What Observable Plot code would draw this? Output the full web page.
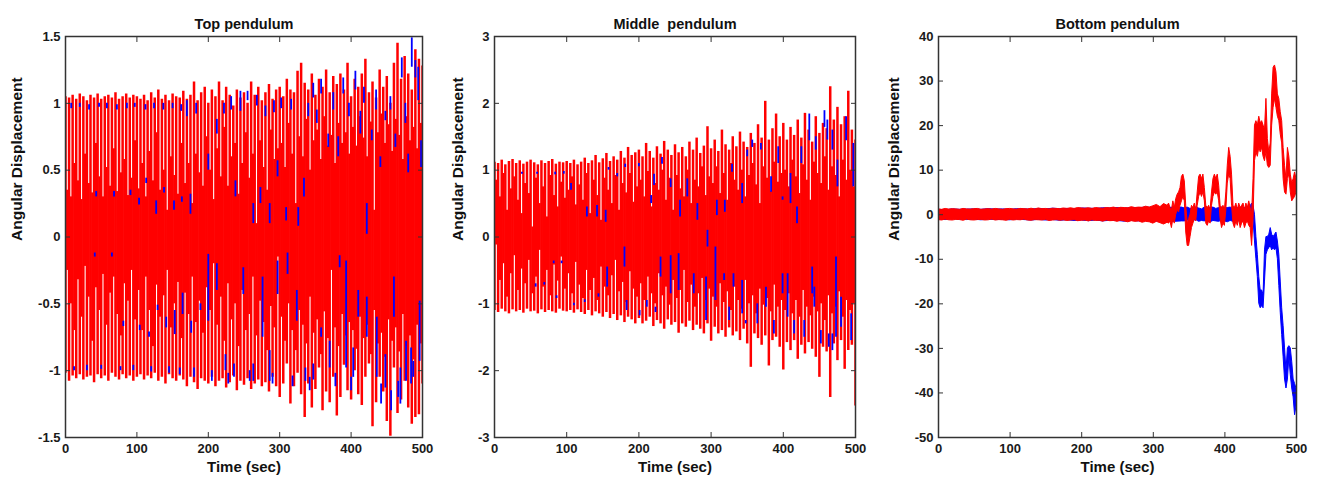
<!DOCTYPE html>
<html><head><meta charset="utf-8">
<script src="https://cdn.jsdelivr.net/npm/d3@7"></script>
<script src="https://cdn.jsdelivr.net/npm/@observablehq/plot@0.6"></script>
<style>
body{margin:0;background:#fff;}
#row{display:flex;width:1318px;height:486px;overflow:hidden;}
#row svg{display:block;flex:none;}
</style></head><body><div id="row"></div>
<script>
// ---------- shared ----------
const xTicks = [0, 100, 200, 300, 400, 500];
const titles = ["Top pendulum", "Middle  pendulum", "Bottom pendulum"];
const xLabel = "Time (sec)";
const yLabel = "Angular Displacement";
const topYTicks = [-1.5, -1, -0.5, 0, 0.5, 1, 1.5];
const midYTicks = [-3, -2, -1, 0, 1, 2, 3];
const botYTicks = [-50, -40, -30, -20, -10, 0, 10, 20, 30, 40];

// ---------- Top pendulum (peaks of red swings every 5 s, fill levels in between) ----------
const topRedUp = [1.05,1.04,1.06,1.03,1.07,1.05,1.02,1.06,1.04,1.07,1.03,1.05,1.06,1.04,1.08,1.03,1.05,1.07,1.04,1.06,
  1.05,1.03,1.06,1.02,1.08,1.04,1.10,1.03,1.06,1.02,1.07,1.05,1.04,1.09,1.03,1.06,1.16,1.02,1.08,1.12,
  1.00,1.10,1.05,1.16,1.02,1.12,1.06,0.98,1.10,1.04,1.08,1.00,1.16,1.06,1.12,1.02,1.08,1.14,1.03,1.10,
  1.12,1.05,1.18,1.10,1.08,1.24,1.30,1.15,1.10,1.22,1.06,1.18,1.12,1.25,1.08,1.20,1.14,1.22,1.10,1.30,
  1.05,1.18,1.12,1.22,1.33,1.08,1.16,1.04,1.25,1.12,1.20,1.00,1.30,1.45,1.18,1.35,1.22,1.10,1.40,1.33,1.28];
const topRedUpFill = [0.35,0.30,0.55,0.42,0.28,0.62,0.40,0.33,0.70,0.45,0.30,0.52,0.38,0.66,0.34,0.48,0.58,0.31,0.44,0.72,
  0.36,0.55,0.30,0.64,0.42,0.78,0.35,0.50,0.20,0.60,0.46,0.32,0.70,0.40,0.55,0.25,0.62,0.48,0.38,0.75,
  0.50,0.28,0.66,0.45,0.82,0.38,0.60,0.70,0.32,0.55,0.78,0.44,0.62,0.10,0.72,0.52,0.35,0.80,0.58,0.66,
  0.70,0.52,0.85,0.62,0.25,0.75,0.60,0.88,0.50,0.72,0.80,0.58,0.90,0.68,0.76,0.55,0.85,0.70,0.78,0.62,
  0.82,0.68,0.90,0.74,0.60,0.86,0.20,0.78,0.92,0.70,0.84,0.64,0.88,0.76,0.58,0.90,0.72,0.82,0.66,0.85];
const topRedDown = [-1.02,-1.08,-1.04,-1.06,-1.03,-1.07,-1.05,-1.04,-1.09,-1.03,-1.06,-1.04,-1.08,-1.02,-1.05,-1.07,-1.03,-1.06,-1.04,-1.08,
  -1.05,-1.03,-1.07,-1.04,-1.06,-1.02,-1.08,-1.05,-1.10,-1.03,-1.06,-1.08,-1.04,-1.07,-1.12,-1.05,-1.09,-1.14,-1.06,-1.08,
  -1.10,-1.05,-1.12,-1.08,-1.06,-1.13,-1.09,-1.04,-1.15,-1.08,-1.11,-1.06,-1.14,-1.10,-1.07,-1.12,-1.09,-1.16,-1.05,-1.12,
  -1.20,-1.10,-0.95,-1.25,-1.12,-1.02,-1.18,-1.35,-1.10,-1.28,-1.14,-0.98,-1.30,-1.16,-1.24,-1.05,-1.34,-1.20,-0.96,-1.15,
  -1.22,-1.00,-1.18,-1.26,-1.05,-0.95,-1.42,-1.24,-1.05,-1.16,-1.38,-1.49,-0.98,-1.32,-1.22,-1.08,-1.28,-1.40,-1.35,-1.33,-1.10];
const topRedDownFill = [-0.25,-0.50,-0.70,-0.32,-0.60,-0.22,-0.45,-0.78,-0.38,-0.55,-0.28,-0.66,-0.42,-0.30,-0.58,-0.74,-0.35,-0.48,-0.25,-0.62,
  -0.40,-0.70,-0.30,-0.55,-0.82,-0.36,-0.60,-0.44,-0.25,-0.68,-0.50,-0.34,-0.76,-0.42,-0.58,-0.30,-0.64,-0.48,-0.72,-0.38,
  -0.55,-0.20,-0.66,-0.45,-0.78,-0.35,-0.62,-0.50,-0.82,-0.40,-0.70,-0.58,-0.30,-0.74,-0.48,-0.64,-0.85,-0.52,-0.68,-0.15,
  -0.60,-0.78,-0.50,-0.70,-0.85,-0.55,-0.66,-0.80,-0.45,-0.72,-0.62,-0.88,-0.56,-0.76,-0.25,-0.68,-0.82,-0.58,-0.74,-0.64,
  -0.70,-0.84,-0.60,-0.76,-0.66,-0.88,-0.55,-0.80,-0.72,-0.90,-0.62,-0.78,-0.68,-0.86,-0.58,-0.82,-0.74,-0.92,-0.66,-0.80];
// visible pieces of the blue trace: [time, from, to]
const topBlue = [
  [8,0.96,1.0],[20,0.97,1.0],[33,0.95,0.99],[47,0.97,1.0],[58,0.96,1.0],[72,0.95,0.99],[86,0.96,1.0],[97,0.97,1.0],
  [112,0.95,0.99],[124,0.96,1.0],[137,0.95,1.0],[150,0.96,1.0],[162,0.94,0.99],[170,0.9,1.02],[183,0.92,1.0],
  [43,0.30,0.34],[68,0.30,0.34],[91,0.31,0.35],[103,0.24,0.29],[113,0.40,0.44],[127,0.17,0.27],[138,0.33,0.37],
  [152,0.2,0.27],[163,0.26,0.3],[175,0.17,0.32],[200,0.5,0.62],[212,0.77,0.88],[238,0.3,0.42],[245,0.94,1.09],
  [255,1.02,1.09],[263,0.1,0.25],[273,0.25,0.37],[286,0.1,0.25],[297,0.45,0.57],[309,0.12,0.22],[326,0.08,0.22],
  [334,0.3,0.44],[347,1.04,1.15],[358,1.07,1.18],[368,0.67,0.77],[382,0.6,0.75],[389,1.07,1.19],[406,1.1,1.24],
  [413,0.77,0.94],[422,0.02,0.25],[429,0.72,0.8],[441,0.52,0.6],[448,0.87,0.94],[455,0.95,1.05],[462,0.67,0.77],
  [471,1.19,1.34],[480,0.48,0.62],[485,1.27,1.49],[490,1.19,1.32],[494,1.02,1.27],[498,0.52,0.72],
  [222,0.92,1.0],[232,0.95,1.05],[268,0.98,1.06],[280,0.9,0.98],[292,0.93,1.02],[302,0.96,1.04],[316,0.95,1.03],
  [340,0.9,1.0],[352,0.85,0.95],[375,0.95,1.08],[397,0.9,1.0],[418,1.0,1.12],[435,0.95,1.1],[476,0.85,1.0],
  [41,-0.15,-0.12],[65,-0.15,-0.12],[81,-0.67,-0.63],[104,-0.7,-0.66],[117,-0.75,-0.71],[129,-0.55,-0.51],
  [141,-0.68,-0.6],[153,-0.73,-0.55],[164,-0.58,-0.42],[176,-0.72,-0.63],[189,-0.55,-0.5],[200,-0.63,-0.13],
  [212,-0.4,-0.2],[224,-1.0,-0.88],[236,-1.05,-0.95],[249,-0.43,-0.23],[263,-1.08,-0.95],[276,-0.75,-0.3],
  [286,-1.08,-0.85],[297,-0.43,-0.18],[311,-0.28,-0.12],[324,-0.63,-0.4],[336,-1.08,-0.98],[347,-1.07,-0.95],
  [358,-0.75,-0.68],[370,-0.98,-0.78],[384,-0.23,-0.14],[393,-0.98,-0.18],[403,-1.05,-0.83],[410,-0.6,-0.4],
  [422,-0.75,-0.45],[436,-1.05,-0.6],[448,-1.13,-0.88],[460,-0.6,-0.3],[469,-1.25,-0.98],[477,-1.08,-0.78],
  [484,-1.1,-0.83],[487,-1.05,-0.93],[496,-0.93,-0.48],
  [12,-1.0,-0.97],[30,-1.0,-0.96],[50,-0.99,-0.96],[77,-1.0,-0.97],[95,-1.0,-0.96],[120,-1.01,-0.97],[145,-1.02,-0.97],
  [160,-1.03,-0.98],[180,-1.05,-0.98],[205,-1.08,-1.0],[228,-1.1,-1.02],[258,-1.08,-1.0],[290,-1.1,-1.02],
  [318,-1.12,-1.04],[342,-1.15,-1.05],[378,-1.12,-1.02],[400,-1.15,-1.05],[442,-1.25,-1.1],[456,-1.3,-1.15],[466,-1.2,-1.08]];

// ---------- Middle pendulum ----------
const midRedUp = [1.12,1.10,1.15,1.08,1.13,1.16,1.10,1.14,1.09,1.12,1.15,1.11,1.08,1.14,1.10,1.13,1.16,1.09,1.12,1.11,
  1.13,1.10,1.15,1.08,1.12,1.18,1.10,1.14,1.22,1.11,1.17,1.25,1.13,1.20,1.15,1.28,1.18,1.34,1.22,1.26,
  1.30,1.20,1.40,1.28,1.18,1.35,1.24,1.43,1.30,1.22,1.38,1.26,1.34,1.20,1.42,1.30,1.48,1.25,1.36,1.65,
  1.32,1.45,1.28,1.60,1.38,1.30,1.50,1.35,1.57,1.42,1.34,1.55,1.40,1.68,1.48,2.03,1.45,1.62,1.84,1.50,
  1.70,1.45,1.64,1.52,1.75,1.48,1.85,1.60,1.42,1.80,1.55,1.70,1.62,2.25,1.75,1.94,1.68,1.80,2.18,1.60,1.45];
const midRedUpFill = [0.85,0.60,0.95,0.40,0.72,0.90,0.55,0.35,0.80,0.65,0.15,0.88,0.50,0.75,0.30,0.92,0.62,0.45,0.82,0.58,
  0.70,0.90,0.48,0.78,0.55,0.95,0.35,0.85,0.62,0.25,0.88,0.70,0.50,0.92,0.40,0.80,0.66,0.95,0.52,0.75,
  0.85,0.60,0.98,0.45,0.80,0.70,1.00,0.55,0.88,0.40,0.92,0.72,0.60,1.00,0.50,0.85,0.75,1.05,0.62,0.90,
  0.80,1.05,0.65,0.95,0.55,1.10,0.85,0.70,1.00,0.60,0.92,1.10,0.78,0.50,1.05,0.88,0.68,1.12,0.82,0.95,
  1.00,0.75,1.15,0.90,0.65,1.08,0.85,0.55,1.12,0.95,0.80,1.20,0.70,1.05,0.92,0.60,1.15,0.85,1.00,0.75];
const midRedDown = [-1.10,-1.13,-1.08,-1.12,-1.15,-1.09,-1.12,-1.10,-1.14,-1.08,-1.12,-1.11,-1.15,-1.09,-1.13,-1.10,-1.12,-1.14,-1.08,-1.11,
  -1.12,-1.10,-1.14,-1.09,-1.13,-1.16,-1.10,-1.18,-1.12,-1.15,-1.20,-1.13,-1.22,-1.16,-1.25,-1.18,-1.28,-1.20,-1.24,-1.30,
  -1.22,-1.30,-1.26,-1.20,-1.34,-1.25,-1.30,-1.38,-1.24,-1.32,-1.28,-1.44,-1.30,-1.35,-1.26,-1.40,-1.32,-1.38,-1.45,-1.30,
  -1.56,-1.35,-1.45,-1.40,-1.50,-1.36,-1.48,-1.42,-1.55,-1.38,-1.60,-1.95,-1.45,-1.52,-1.62,-1.48,-1.93,-1.55,-1.50,-1.65,
  -1.99,-1.58,-1.70,-1.55,-1.83,-1.62,-1.75,-1.58,-1.68,-1.80,-2.10,-1.65,-1.72,-2.40,-1.60,-1.85,-1.55,-1.98,-1.70,-1.62,-2.53];
const midRedDownFill = [-0.12,-0.65,-0.40,-0.90,-0.55,-0.28,-0.80,-0.48,-0.70,-0.35,-0.85,-0.60,-0.20,-0.75,-0.50,-0.88,-0.42,-0.66,-0.30,-0.78,
  -0.55,-0.85,-0.38,-0.72,-0.92,-0.50,-0.80,-0.62,-0.95,-0.45,-0.75,-0.88,-0.58,-0.35,-0.82,-0.68,-0.98,-0.52,-0.78,-0.90,
  -0.70,-0.95,-0.60,-0.85,-1.00,-0.55,-0.88,-0.75,-1.02,-0.65,-0.92,-0.80,-0.50,-0.98,-0.72,-1.05,-0.85,-0.62,-0.95,-0.78,
  -0.90,-1.05,-0.70,-0.98,-0.82,-1.10,-0.75,-0.95,-1.08,-0.65,-1.00,-0.88,-1.15,-0.78,-1.02,-0.92,-1.12,-0.72,-1.05,-0.95,
  -1.10,-0.85,-1.15,-0.95,-1.20,-0.80,-1.05,-1.18,-0.90,-1.12,-1.00,-1.25,-0.88,-1.15,-1.05,-0.82,-1.20,-0.95,-1.10,-1.00];
const midBlue = [
  [38,0.94,0.97],[59,0.94,0.97],[84,0.93,0.97],[96,0.94,0.98],[106,0.7,0.8],[128,0.3,0.45],[142,0.3,0.47],[154,0.22,0.4],
  [158,1.0,1.04],[170,0.9,0.95],[181,1.04,1.09],[200,1.05,1.1],[217,0.5,0.62],[221,0.77,0.94],[232,1.09,1.19],
  [244,0.74,0.87],[257,0.3,0.55],[267,0.6,0.87],[281,0.25,0.5],[295,-0.15,0.1],[308,0.32,0.55],[319,0.37,0.55],
  [329,0.97,1.09],[343,0.5,0.8],[350,1.2,1.3],[357,1.34,1.45],[369,1.3,1.4],[383,0.67,0.9],[393,1.1,1.35],
  [399,0.55,0.6],[410,0.5,0.95],[419,0.2,0.45],[425,1.1,1.35],[436,1.44,1.84],[445,1.3,1.5],[457,1.64,1.89],
  [461,1.45,1.75],[468,1.3,1.6],[475,0.75,1.15],[487,1.44,1.8],[497,0.75,1.4],
  [57,-0.75,-0.7],[69,-0.72,-0.68],[82,-0.4,-0.36],[86,-0.92,-0.88],[93,-0.4,-0.36],[110,-1.03,-0.99],[125,-0.98,-0.94],
  [144,-0.9,-0.85],[156,-0.75,-0.45],[180,-0.45,-0.15],[183,-1.1,-0.95],[201,-1.18,-1.1],[211,-1.05,-0.95],
  [223,-1.13,-1.05],[230,-0.6,-0.3],[244,-0.85,-0.28],[255,-0.8,-0.25],[276,-0.85,-0.55],[293,-1.25,-0.6],
  [306,-0.95,-0.15],[318,-0.65,-0.55],[325,-1.25,-1.05],[331,-0.75,-0.55],[343,-1.15,-0.65],[348,-1.3,-1.25],
  [364,-1.3,-1.0],[376,-1.05,-0.75],[387,-1.45,-1.25],[399,-0.85,-0.55],[406,-1.2,-0.55],[415,-1.45,-1.25],
  [429,-1.5,-1.25],[440,-0.85,-0.45],[443,-1.05,-0.75],[452,-1.6,-1.4],[463,-1.65,-1.45],[468,-1.7,-1.45],
  [473,-1.5,-0.3],[480,-1.35,-0.9],[494,-1.55,-1.15]];

// ---------- Bottom pendulum: band of the trace [time, low, high] ----------
const botRed = [[0,-1.2,1.2],[5,-1.3,1.1],[10,-1.1,1.3],[15,-1.25,1.15],[20,-1.3,1.25],[25,-1.15,1.2],[30,-1.2,1.1],
  [35,-1.35,1.3],[40,-1.1,1.2],[45,-1.25,1.15],[50,-1.3,1.25],[55,-1.2,1.3],[60,-1.15,1.1],[65,-1.3,1.2],[70,-1.25,1.25],
  [75,-1.1,1.15],[80,-1.3,1.3],[85,-1.2,1.2],[90,-1.25,1.1],[95,-1.35,1.25],[100,-1.15,1.3],[105,-1.3,1.2],[110,-1.2,1.15],
  [115,-1.25,1.3],[120,-1.1,1.25],[125,-1.3,1.2],[130,-1.35,1.35],[135,-1.2,1.2],[140,-1.25,1.4],[145,-1.3,1.25],
  [150,-1.15,1.3],[155,-1.4,1.2],[160,-1.3,1.35],[165,-1.2,1.3],[170,-1.35,1.25],[175,-1.25,1.4],[180,-1.4,1.3],
  [185,-1.3,1.45],[190,-1.2,1.3],[195,-1.45,1.5],[200,-1.35,1.4],[205,-1.3,1.35],[210,-1.5,1.45],[215,-1.25,1.3],
  [220,-1.4,1.5],[225,-1.35,1.4],[230,-1.55,1.35],[235,-1.3,1.5],[240,-1.45,1.45],[245,-1.4,1.6],[250,-1.6,1.4],
  [255,-1.35,1.55],[260,-1.5,1.5],[265,-1.7,1.45],[270,-1.45,1.7],[275,-1.6,1.5],[280,-1.5,1.6],[285,-1.8,1.55],
  [290,-1.6,1.8],[295,-1.7,1.6],[300,-2.0,1.9],[305,-1.6,2.2],[310,-1.9,1.7],[315,-2.2,2.4],[320,-1.8,2.0],
  [322,-2,2.5],[324,-1.5,1.5],[326,-3,1],[328,-1,3],[330,-2,1.5],[332,0,3.5],[334,1,4.5],[336,0.5,5],[338,2,6],
  [340,3,8.5],[342,4,9],[344,3,7.5],[346,-4,2],[348,-7,-2],[350,-7,-1],[352,-5,0],[354,-3,2],[356,-2,1.5],[358,-1,2.5],
  [360,-1.5,1],[362,2,5],[364,4,8.5],[366,5,9],[368,4,8],[370,5,9],[372,3,6],[374,-2,2],[376,-2.5,1.5],[378,-1.5,2],
  [380,-2,1],[382,2,5],[384,4,8],[386,5,9],[388,4.5,8],[390,5,9],[392,3,6.5],[394,-1,2],[396,-3,1.5],[398,-2,2],
  [400,-2.5,1],[402,1,5],[404,7,11],[406,9,15],[408,8,13],[410,2,9],[412,-2,2],[414,-3,1.5],[416,-1.5,2.5],[418,-2.5,1],
  [420,-1,2.5],[422,-3,1.5],[424,-2,2],[426,-1.5,2.5],[428,-3,1],[430,-2,2.5],[432,-1.5,1.5],[434,-2.5,3],[436,-3,1.5],
  [438,-7,0],[440,-1,8],[442,12,20],[444,14,21],[446,13,20],[448,15,22],[450,14,20.5],[452,15,21],[454,13,20],
  [456,12,19],[458,14,26],[460,11,17],[462,10.5,14],[464,11,16],[466,20,27],[468,24,33],[470,26,33.5],[472,24,32],
  [474,22,27],[476,21,26],[478,18,23],[480,16,21],[482,8,15],[484,5,11],[486,4.5,8],[488,8,15],[490,9,13],[492,5,9],
  [494,3,7],[496,3.5,8],[498,4,9.5],[500,5,8]];
const botBlue = [[0,-1.1,1.1],[10,-1.2,1.0],[20,-1.0,1.2],[30,-1.15,1.1],[40,-1.2,1.15],[50,-1.1,1.2],[60,-1.25,1.1],
  [70,-1.1,1.25],[80,-1.2,1.15],[90,-1.15,1.2],[100,-1.25,1.1],[110,-1.1,1.25],[120,-1.2,1.2],[130,-1.3,1.15],
  [140,-1.15,1.3],[150,-1.3,1.2],[160,-1.2,1.35],[170,-1.35,1.25],[180,-1.25,1.3],[190,-1.4,1.2],[200,-1.3,1.4],
  [210,-1.45,1.35],[220,-1.3,1.3],[230,-1.5,1.45],[240,-1.35,1.4],[250,-1.4,1.5],[260,-1.55,1.35],[270,-1.4,1.5],
  [280,-1.5,1.45],[290,-1.45,1.6],[300,-1.6,1.5],[310,-1.5,1.55],[320,-1.55,1.6],[330,-1.6,1.5],[340,-1.5,1.6],
  [344,-1.5,1.4],[348,-1.3,1.6],[352,-1.6,1.3],[356,-1.4,1.5],[360,-1.2,1.6],[364,-1.6,1.4],[368,-1.4,1.2],
  [372,-1.5,1.6],[376,-1.3,1.4],[380,-1.7,1.5],[384,-1.4,1.6],[388,-1.5,1.3],[392,-1.6,1.5],[396,-1.3,1.6],
  [400,-1.5,1.4],[404,-1.7,1.5],[408,-1.4,1.6],[412,-1.6,1.3],[416,-1.3,1.5],[420,-1.5,1.4],[424,-1.6,1.6],
  [428,-1.4,1.5],[432,-1.5,1.7],[436,-1.3,1.9],[438,-0.5,2.5],[440,-1,2],[442,-6,0],[444,-10,-5],[446,-14,-9],
  [448,-20,-14],[450,-21,-17],[452,-20.5,-17],[454,-21,-18],[456,-15,-8],[458,-9,-5],[460,-8,-5],[462,-7.5,-4.5],
  [464,-7,-3],[466,-8,-4.5],[468,-7.5,-5],[470,-8,-4.5],[472,-7.5,-4],[474,-10,-6],[476,-16,-9],[478,-22,-15],
  [480,-27,-21],[482,-32,-25],[484,-37,-30],[486,-39,-35],[488,-37,-30],[490,-32,-29.5],[492,-36,-30],[494,-39,-33],
  [496,-41,-37],[498,-45,-38],[500,-43,-39]];

// ---------- drawing ----------
const RED = "#ff0000", BLUE = "#0000ff";
const peakTimes = d3.range(0, 501, 5);      // swing peaks sampled every 5 s
const fillTimes = d3.range(2.5, 500, 5);    // in-between swings
const swings = (times, lo, hi) => lo.map((v, i) => ({t: times[i], lo: v, hi: hi[i]}));
const TICKFONT = '"Liberation Sans Narrow", "Liberation Sans", Arial, sans-serif';
const LABELFONT = '"Liberation Sans", Arial, sans-serif';

function swingMarks(up, upFill, down, downFill, blue) {
  return [
    Plot.ruleX(swings(fillTimes, downFill, upFill), {x: "t", y1: "lo", y2: "hi", stroke: RED, strokeWidth: 2.4, clip: true}),
    Plot.ruleX(swings(peakTimes, down, up), {x: "t", y1: "lo", y2: "hi", stroke: RED, strokeWidth: 2.5, clip: true}),
    Plot.ruleX(blue, {x: d => d[0], y1: d => d[1], y2: d => d[2], stroke: BLUE, strokeWidth: 1.8, clip: true})
  ];
}
function bandMarks() {
  return [
    Plot.areaY(botBlue, {x: d => d[0], y1: d => d[1], y2: d => d[2], fill: BLUE, stroke: BLUE, strokeWidth: 1, clip: true}),
    Plot.areaY(botRed, {x: d => d[0], y1: d => d[1], y2: d => d[2], fill: RED, stroke: RED, strokeWidth: 1, clip: true})
  ];
}

function panel({width, ml, mr, title, yDomain, yTicks, yLabelDx, marks}) {
  return Plot.plot({
    width, height: 486, marginLeft: ml, marginRight: mr, marginTop: 36, marginBottom: 49,
    style: {fontFamily: TICKFONT, fontSize: "13px", fontWeight: "bold", color: "#1a1a1a", background: "#fff", overflow: "visible"},
    x: {domain: [0, 500], label: null},
    y: {domain: yDomain, label: null},
    marks: [
      ...marks,
      Plot.frame({stroke: "#333", strokeWidth: 1.5}),
      Plot.axisX({anchor: "bottom", ticks: xTicks, tickSize: -5, tickPadding: 11, tickFormat: d => String(d), label: null, stroke: "#333"}),
      Plot.axisX({anchor: "top", ticks: xTicks, tickSize: -5, tickFormat: () => "", label: null, stroke: "#333"}),
      Plot.axisY({anchor: "left", ticks: yTicks, tickSize: -5, tickPadding: 10, tickFormat: d => String(d), label: null, stroke: "#333"}),
      Plot.axisY({anchor: "right", ticks: yTicks, tickSize: -5, tickFormat: () => "", label: null, stroke: "#333"}),
      Plot.text([title], {text: d => d, frameAnchor: "top", dy: -18, fontSize: 14.5, fontWeight: "bold", fontFamily: LABELFONT, fill: "#111"}),
      Plot.text([xLabel], {text: d => d, frameAnchor: "bottom", dy: 34, fontSize: 15, fontWeight: "bold", fontFamily: LABELFONT, fill: "#111"}),
      Plot.text([yLabel], {text: d => d, frameAnchor: "left", dx: yLabelDx, dy: 4, rotate: -90, fontSize: 15.5, fontWeight: "bold", fontFamily: LABELFONT, fill: "#111"})
    ]
  });
}

const row = document.getElementById("row");
row.append(panel({width: 440, ml: 65, mr: 18, title: titles[0], yDomain: [-1.5, 1.5], yTicks: topYTicks, yLabelDx: -48,
  marks: swingMarks(topRedUp, topRedUpFill, topRedDown, topRedDownFill, topBlue)}));
row.append(panel({width: 438, ml: 54, mr: 23, title: titles[1], yDomain: [-3, 3], yTicks: midYTicks, yLabelDx: -36,
  marks: swingMarks(midRedUp, midRedUpFill, midRedDown, midRedDownFill, midBlue)}));
row.append(panel({width: 440, ml: 60, mr: 22, title: titles[2], yDomain: [-50, 40], yTicks: botYTicks, yLabelDx: -44,
  marks: bandMarks()}));
</script></body></html>
